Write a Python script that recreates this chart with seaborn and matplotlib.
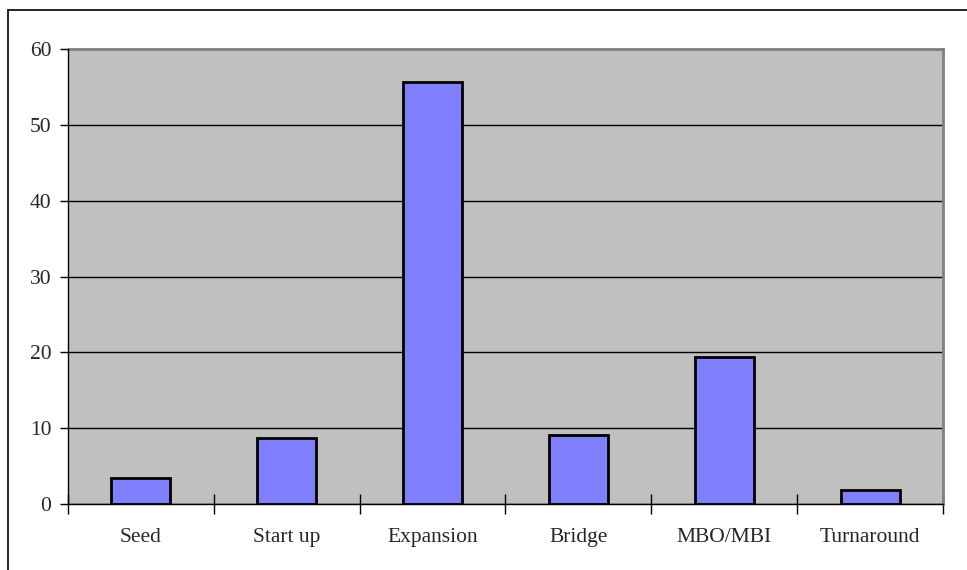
import matplotlib
matplotlib.use("Agg")
import matplotlib.pyplot as plt
from matplotlib.lines import Line2D
import seaborn as sns
import pandas as pd

# Investment stage shares
stages = ["Seed", "Start up", "Expansion", "Bridge", "MBO/MBI", "Turnaround"]
shares = [3.4, 8.7, 55.6, 9.1, 19.4, 1.8]
y_ticks = [0, 10, 20, 30, 40, 50, 60]

sns.set_style("white")
plt.rcParams["font.family"] = ["Liberation Serif", "DejaVu Serif"]

fig = plt.figure(figsize=(9.67, 5.70), dpi=100)
ax = fig.add_axes([68 / 967, 1 - 504 / 570, 875 / 967, 455 / 570])

df = pd.DataFrame({"stage": stages, "share": shares})
sns.barplot(data=df, x="stage", y="share", color="#8080FF", saturation=1,
            width=0.405, edgecolor="black", linewidth=2.0, ax=ax, zorder=3)

ax.set_facecolor("#C0C0C0")
ax.set_xlim(-0.5, len(stages) - 0.5)
ax.set_ylim(0, 60)
ax.set_yticks(y_ticks)
ax.set_xlabel("")
ax.set_ylabel("")

# horizontal gridlines
ax.yaxis.grid(True, color="black", linewidth=1.0)
ax.set_axisbelow(True)

# spines: black axes at left/bottom, grey frame at top/right
for side in ("left", "bottom"):
    ax.spines[side].set_color("black")
    ax.spines[side].set_linewidth(1.0)
for side in ("top", "right"):
    ax.spines[side].set_color("#808080")
    ax.spines[side].set_linewidth(2.0)
ax.spines["left"].set_zorder(4)
ax.spines["bottom"].set_zorder(4)

# ticks
ax.tick_params(axis="y", which="major", direction="out", length=6, width=1,
               color="black", left=True, labelsize=15.5, pad=6)
ax.tick_params(axis="x", which="major", length=0, labelsize=15.5, pad=17)
ax.set_xticks([i - 0.5 for i in range(len(stages) + 1)], minor=True)
ax.tick_params(axis="x", which="minor", direction="inout", length=14, width=1,
               color="black", bottom=True)

# outer chart frame
fig.add_artist(Line2D([8 / 967, 8 / 967], [0, 1 - 10 / 570], color="black",
                      linewidth=1.2, transform=fig.transFigure))
fig.add_artist(Line2D([8 / 967, 1], [1 - 10 / 570, 1 - 10 / 570], color="black",
                      linewidth=1.2, transform=fig.transFigure))

fig.savefig("out.png", dpi=100)
